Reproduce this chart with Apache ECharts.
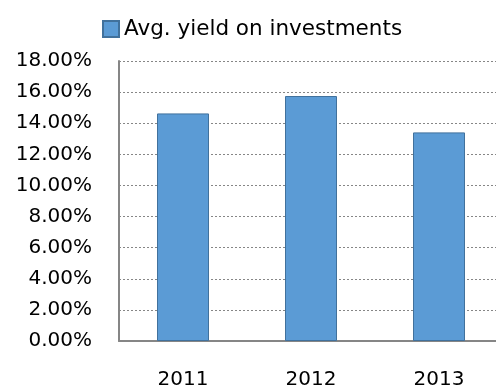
<!DOCTYPE html>
<html>
<head>
<meta charset="utf-8">
<script src="https://cdn.jsdelivr.net/npm/echarts@6/dist/echarts.min.js"></script>
<style>
  html, body { margin: 0; padding: 0; background: #ffffff; }
  #chart { width: 496px; height: 391px; }
</style>
</head>
<body>
<div id="chart"></div>
<script>
// Average yield on investments by year (percent)
const years = ['2011', '2012', '2013'];
const yieldValues = [14.63, 15.75, 13.41];
const seriesName = 'Avg. yield on investments';
const yMin = 0, yMax = 18, yStep = 2;

const chart = echarts.init(document.getElementById('chart'));
chart.setOption({
  animation: false,
  backgroundColor: '#ffffff',
  textStyle: { fontFamily: 'DejaVu Sans' },
  legend: {
    left: 97,
    top: 13,
    itemWidth: 16,
    itemHeight: 16,
    itemGap: 6,
    icon: 'rect',
    textStyle: { fontSize: 21.5, color: '#000', fontFamily: 'DejaVu Sans' },
    data: [seriesName]
  },
  // plot area runs past the right edge of the canvas
  grid: { left: 119, right: -7, top: 61, bottom: 50, outerBoundsMode: 'none' },
  xAxis: {
    type: 'category',
    data: years,
    axisLine: { lineStyle: { color: '#868686', width: 2 } },
    axisTick: { show: false },
    axisLabel: { color: '#000', fontSize: 20, margin: 29, fontFamily: 'DejaVu Sans' }
  },
  yAxis: {
    type: 'value',
    min: yMin,
    max: yMax,
    interval: yStep,
    axisLine: { show: true, lineStyle: { color: '#868686', width: 2 } },
    axisTick: { show: false },
    axisLabel: {
      color: '#000',
      fontSize: 20,
      margin: 27,
      fontFamily: 'DejaVu Sans',
      formatter: v => v.toFixed(2) + '%'
    },
    splitLine: { show: true, lineStyle: { color: '#868686', type: [2, 2], width: 1 } }
  },
  series: [{
    name: seriesName,
    type: 'bar',
    data: yieldValues,
    barWidth: 52,
    itemStyle: { color: '#5B9BD5', borderColor: '#41719C', borderWidth: 1 }
  }]
});
</script>
</body>
</html>
